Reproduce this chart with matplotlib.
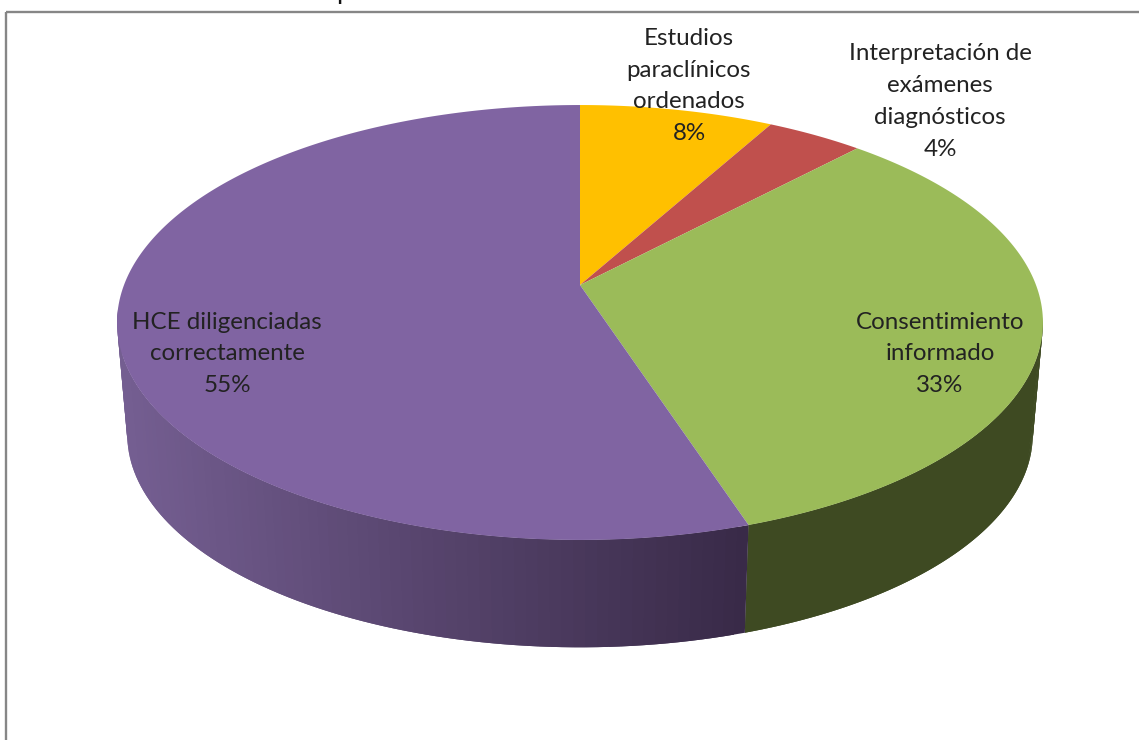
import numpy as np
import matplotlib
matplotlib.use("Agg")
import matplotlib.pyplot as plt
from matplotlib.collections import PolyCollection
from matplotlib.colors import to_rgb
from matplotlib.patches import Rectangle
from matplotlib.path import Path
from matplotlib.transforms import Transform

# Slices, clockwise from twelve o'clock.
NAMES = ["Estudios\nparaclínicos\nordenados", "Interpretación de\nexámenes\ndiagnósticos",
         "Consentimiento\ninformado", "HCE diligenciadas\ncorrectamente"]
SHARES = [8, 4, 33, 55]

TOP_COLORS = ["#FFC000", "#C0504D", "#9BBB59", "#8064A2"]
# Wall shade at the right and the left end of each slice.
WALL_COLORS = [("#7F6000", "#7F6000"), ("#602826", "#602826"),
               ("#3E4A22", "#3E4A22"), ("#392A48", "#745E91")]
LABEL_POS = [(689, 86), (940, 101.5), (940, 354), (227, 354)]

TEXT_FONT = "Lato"
TEXT_COLOR = "#222222"
FRAME_COLOR = "#868686"


# Tilted disc: unit circle in pie coordinates to picture pixels.
class DiscTransform(Transform):
    input_dims = 2
    output_dims = 2

    def __init__(self, scale=1.0, drop=0.0):
        super().__init__()
        self.scale = scale
        self.drop = drop

    def transform_non_affine(self, values):
        values = np.asarray(values, dtype=float)
        u, v = values[:, 0], values[:, 1]
        w = 1 + 0.1724 * v
        return np.column_stack((580 + self.scale * 456 * u / w,
                                285 + self.drop - self.scale * 211 * v / w))

    def transform_path_non_affine(self, path):
        # Split curves so the arcs stay on the ellipse.
        pts = [curve(np.linspace(0, 1, 40)) for curve, code in path.iter_bezier()]
        return Path(self.transform_non_affine(np.vstack(pts)))


def CircleAt(theta):
    return np.column_stack((np.cos(theta), np.sin(theta)))


def PlotWalls(ax, top, bottom):
    edges = np.cumsum([0] + SHARES) / sum(SHARES)
    for i in range(len(SHARES)):
        theta = np.pi / 2 - 2 * np.pi * np.linspace(edges[i], edges[i + 1], 160)
        upper = top.transform_non_affine(CircleAt(theta))
        lower = bottom.transform_non_affine(CircleAt(theta))
        # Each strip overlaps the next one, so no seams show. Back of the rim is skipped.
        keep = [j for j in range(len(theta) - 1) if upper[j, 1] > 316]
        quads = [[upper[j], upper[min(j + 2, len(theta) - 1)],
                  lower[min(j + 2, len(theta) - 1)], lower[j]] for j in keep]
        if not quads:
            continue
        right, left = to_rgb(WALL_COLORS[i][0]), to_rgb(WALL_COLORS[i][1])
        mix = np.clip((749 - upper[keep, 0]) / (749 - 127), 0, 1)[:, None]
        colors = np.array(right) * (1 - mix) + np.array(left) * mix
        ax.add_collection(PolyCollection(quads, facecolors=colors, edgecolors="none",
                                         linewidths=0, zorder=1))


if __name__ == "__main__":
    fig = plt.figure(figsize=(11.39, 7.40), dpi=100)
    ax = fig.add_axes([0, 0, 1, 1])

    top = DiscTransform()
    bottom = DiscTransform(scale=0.978, drop=113)

    wedges = ax.pie(SHARES, colors=TOP_COLORS, startangle=90, counterclock=False,
                    wedgeprops=dict(linewidth=0, zorder=2))[0]
    for wedge in wedges:
        wedge.set_transform(top + ax.transData)

    ax.set(xlim=(0, 1139), ylim=(740, 0), aspect="auto")
    ax.set_axis_off()

    PlotWalls(ax, top, bottom)

    # Chart frame, its right and bottom sides are cropped off.
    ax.add_patch(Rectangle((6, 12), 1200, 800, fill=False, edgecolor=FRAME_COLOR,
                           linewidth=1.7, zorder=0))

    for name, share, (x, y) in zip(NAMES, SHARES, LABEL_POS):
        ax.text(x, y, "%s\n%d%%" % (name, share), ha="center", va="center", family=TEXT_FONT,
                fontsize=17.4, linespacing=1.64, color=TEXT_COLOR, zorder=3)

    # Only the tail of the cropped title is left at the top edge.
    ax.text(343.5, -0.5, "p", ha="center", va="baseline", family=TEXT_FONT, fontsize=19,
            color="#111111", clip_on=False)

    fig.savefig("out.png", dpi=100, facecolor="white")
